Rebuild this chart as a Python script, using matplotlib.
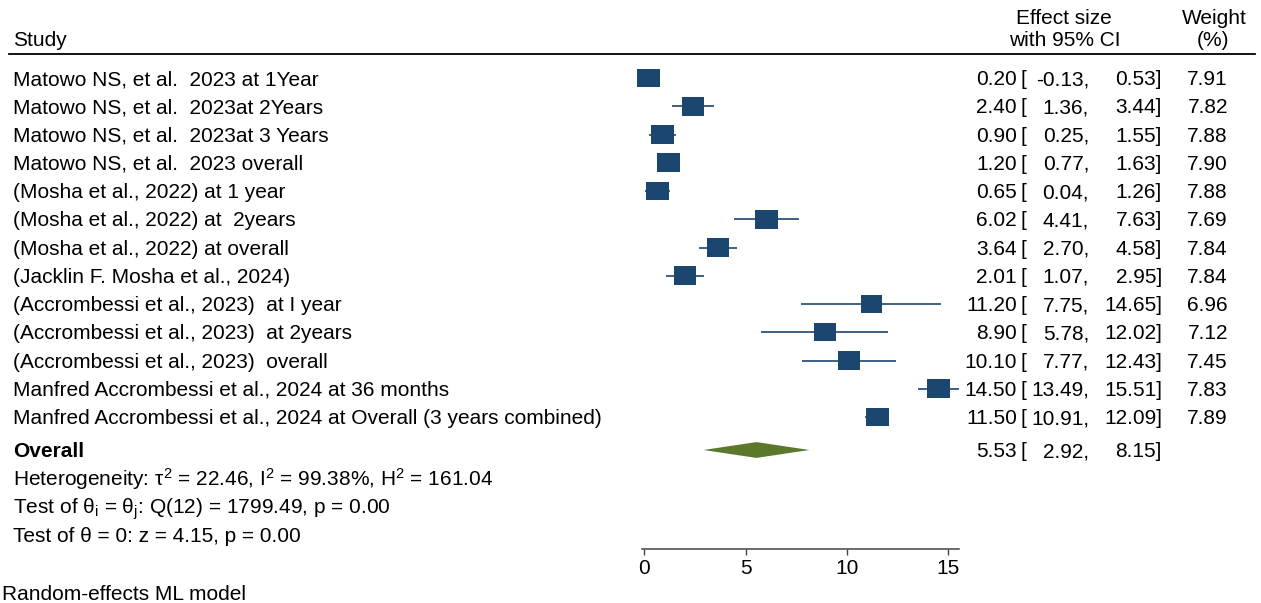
import matplotlib
matplotlib.use("Agg")
import matplotlib.pyplot as plt
import matplotlib.transforms as mtransforms
from matplotlib.patches import Rectangle, Polygon
from matplotlib.lines import Line2D

plt.rcParams['font.family'] = ['Liberation Sans', 'DejaVu Sans']
plt.rcParams['mathtext.fontset'] = 'custom'
plt.rcParams['mathtext.rm'] = 'Liberation Sans'
plt.rcParams['mathtext.it'] = 'Liberation Sans:italic'
plt.rcParams['mathtext.bf'] = 'Liberation Sans:bold'

# ---------------- data ----------------
studies = [
    "Matowo NS, et al.  2023 at 1Year",
    "Matowo NS, et al.  2023at 2Years",
    "Matowo NS, et al.  2023at 3 Years",
    "Matowo NS, et al.  2023 overall",
    "(Mosha et al., 2022) at 1 year",
    "(Mosha et al., 2022) at  2years",
    "(Mosha et al., 2022) at overall",
    "(Jacklin F. Mosha et al., 2024)",
    "(Accrombessi et al., 2023)  at I year",
    "(Accrombessi et al., 2023)  at 2years",
    "(Accrombessi et al., 2023)  overall",
    "Manfred Accrombessi et al., 2024 at 36 months",
    "Manfred Accrombessi et al., 2024 at Overall (3 years combined)",
]
effect = [0.20, 2.40, 0.90, 1.20, 0.65, 6.02, 3.64, 2.01, 11.20, 8.90, 10.10, 14.50, 11.50]
ci_low = [-0.13, 1.36, 0.25, 0.77, 0.04, 4.41, 2.70, 1.07, 7.75, 5.78, 7.77, 13.49, 10.91]
ci_high = [0.53, 3.44, 1.55, 1.63, 1.26, 7.63, 4.58, 2.95, 14.65, 12.02, 12.43, 15.51, 12.09]
weight = [7.91, 7.82, 7.88, 7.90, 7.88, 7.69, 7.84, 7.84, 6.96, 7.12, 7.45, 7.83, 7.89]

overall_label = "Overall"
overall_effect = 5.53
overall_low = 2.92
overall_high = 8.15

stats_lines = [
    r"Heterogeneity: τ$^2$ = 22.46, I$^2$ = 99.38%, H$^2$ = 161.04",
    r"Test of θ$_\mathrm{i}$ = θ$_\mathrm{j}$: Q(12) = 1799.49, p = 0.00",
    r"Test of θ = 0: z = 4.15, p = 0.00",
]
xticks = [0, 5, 10, 15]
footnote = "Random-effects ML model"

# ---------------- layout ----------------
W, H = 1261, 603
fig = plt.figure(figsize=(W / 100, H / 100), dpi=100)

px_per_unit = 20.27
x0_px = 644.3
xlim = (-1.0, 16.0)
row_px0 = 78.0
row_step = 28.25
axis_px = 549.3
top_row = 0.5
bottom_row = 1 + (axis_px - row_px0) / row_step

ax_left = (x0_px + xlim[0] * px_per_unit) / W
ax_width = (xlim[1] - xlim[0]) * px_per_unit / W
ax_top_px = row_px0 + (top_row - 1) * row_step
ax = fig.add_axes([ax_left, 1 - axis_px / H, ax_width, (axis_px - ax_top_px) / H])
ax.set_xlim(*xlim)
ax.set_ylim(bottom_row, top_row)

navy = "#1b4670"
green = "#5b782b"
fs = 15.0

rows = list(range(1, len(studies) + 1))
box_w = 1.13
box_h = 0.67
wmax = max(weight)
for r, e, lo, hi, w in zip(rows, effect, ci_low, ci_high, weight):
    ax.plot([lo, hi], [r, r], color=navy, lw=1.2, solid_capstyle='butt', zorder=2)
    s = (w / wmax) ** 0.5
    ax.add_patch(Rectangle((e - box_w * s / 2, r - box_h * s / 2), box_w * s, box_h * s,
                           facecolor=navy, edgecolor='none', zorder=3))

ov_row = len(studies) + 1 + (450 - (row_px0 + len(studies) * row_step)) / row_step
dh = 0.28
ax.add_patch(Polygon([[overall_low, ov_row], [overall_effect, ov_row - dh],
                      [overall_high, ov_row], [overall_effect, ov_row + dh]],
                     closed=True, facecolor=green, edgecolor='none', zorder=3))

for sp in ['left', 'right', 'top']:
    ax.spines[sp].set_visible(False)
ax.spines['bottom'].set_bounds(min(ci_low), max(ci_high))
ax.spines['bottom'].set_color('#444444')
ax.spines['bottom'].set_linewidth(1.1)
ax.set_yticks([])
ax.set_xticks(xticks)
ax.set_xticklabels([str(t) for t in xticks], fontsize=fs)
ax.tick_params(axis='x', direction='out', length=4, width=1.0, color='#444444', pad=3)

# ---------------- text columns ----------------
tr_raw = mtransforms.blended_transform_factory(fig.transFigure, ax.transData)
# baseline sits half a cap-height below the row centre
tr = mtransforms.offset_copy(tr_raw, fig=fig, x=0, y=-0.344 * fs, units='points')

def fx(px):
    return px / W

def fy(px):
    return 1 - px / H

x_study = fx(13)
x_es_r = fx(1017)
x_br = fx(1021)
x_lo_r = fx(1089)
x_hi_r = fx(1162)
x_w_r = fx(1228)

def put(x, row, s, ha='left', **kw):
    ax.text(x, row, s, transform=tr, ha=ha, va='baseline', fontsize=fs, clip_on=False, **kw)

def ci_texts(row, e, lo, hi):
    put(x_es_r, row, f"{e:.2f}", ha='right')
    put(x_br, row, "[")
    put(x_lo_r, row, f"{lo:.2f},", ha='right')
    put(x_hi_r, row, f"{hi:.2f}]", ha='right')

for r, name, e, lo, hi, w in zip(rows, studies, effect, ci_low, ci_high, weight):
    put(x_study, r, name)
    ci_texts(r, e, lo, hi)
    put(x_w_r, r, f"{w:.2f}", ha='right')

put(x_study, ov_row, overall_label, fontweight='bold')
ci_texts(ov_row, overall_effect, overall_low, overall_high)

for i, line in enumerate(stats_lines):
    put(x_study, ov_row + 1 + i, line)

# headers
fig.text(fx(13), fy(41), "Study", ha='left', va='center', fontsize=fs)
fig.text(fx(1064), fy(19), "Effect size", ha='center', va='center', fontsize=fs)
fig.text(fx(1065), fy(41), "with 95% CI", ha='center', va='center', fontsize=fs)
fig.text(fx(1214), fy(19), "Weight", ha='center', va='center', fontsize=fs)
fig.text(fx(1213), fy(41), "(%)", ha='center', va='center', fontsize=fs)
fig.add_artist(Line2D([fx(9), fx(1255)], [fy(53.5), fy(53.5)], transform=fig.transFigure,
                      color='black', lw=1.3))

fig.text(fx(2), fy(594), footnote, ha='left', va='center', fontsize=fs)

fig.savefig("out.png", dpi=100, facecolor='white')
